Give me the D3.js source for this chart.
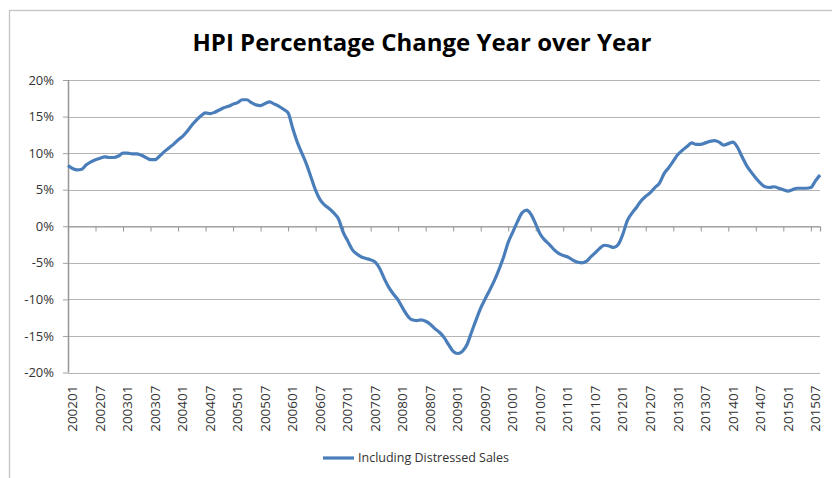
<!DOCTYPE html>
<html>
<head>
<meta charset="utf-8">
<script src="https://cdn.jsdelivr.net/npm/d3@7"></script>
<style>
  body { margin: 0; background: #fff; }
  svg { display: block; }
</style>
</head>
<body>
<div id="chart"></div>
<script>
// first month shown and number of months (200201 .. 201509)
const startMonth = "200201";
const monthCount = 165;

// year over year change, %, one value per month
const hpiChange = [
  8.3, 7.9, 7.7, 7.8, 8.4, 8.8, 9.1, 9.3, 9.5, 9.4, 9.4, 9.6,
  10.0, 10.0, 9.9, 9.9, 9.7, 9.4, 9.1, 9.1, 9.6, 10.2, 10.7, 11.2,
  11.8, 12.3, 13.0, 13.8, 14.5, 15.1, 15.5, 15.4, 15.6, 15.9, 16.2, 16.4,
  16.7, 16.9, 17.3, 17.3, 16.9, 16.6, 16.5, 16.8, 17.0, 16.7, 16.4, 16.0,
  15.5, 13.4, 11.5, 10.0, 8.5, 6.7, 4.9, 3.6, 2.9, 2.4, 1.8, 1.0,
  -0.8, -2.0, -3.2, -3.8, -4.2, -4.4, -4.6, -4.9, -5.8, -7.2, -8.4, -9.3,
  -10.1, -11.2, -12.2, -12.8, -12.9, -12.8, -13.0, -13.4, -14.0, -14.5, -15.2, -16.2,
  -17.1, -17.4, -17.1, -16.2, -14.5, -12.8, -11.2, -9.9, -8.7, -7.4, -5.9, -4.2,
  -2.2, -0.8, 0.6, 1.8, 2.2, 1.6, 0.3, -1.1, -1.9, -2.5, -3.2, -3.7,
  -4.0, -4.2, -4.6, -4.9, -5.0, -4.8, -4.2, -3.6, -3.0, -2.6, -2.7, -2.9,
  -2.5, -1.1, 0.8, 1.8, 2.6, 3.5, 4.1, 4.6, 5.3, 5.9, 7.2, 8.0,
  8.9, 9.8, 10.4, 10.9, 11.4, 11.2, 11.2, 11.4, 11.6, 11.7, 11.5, 11.1,
  11.3, 11.5, 10.8, 9.5, 8.3, 7.4, 6.6, 5.9, 5.4, 5.3, 5.4, 5.2,
  5.0, 4.8, 5.0, 5.2, 5.2, 5.2, 5.3, 6.2, 7.0
];

const tickLabels = [
  "200201", "200207", "200301", "200307", "200401", "200407", "200501",
  "200507", "200601", "200607", "200701", "200707", "200801", "200807",
  "200901", "200907", "201001", "201007", "201101", "201107", "201201",
  "201207", "201301", "201307", "201401", "201407", "201501", "201507"
];
const yTicks = [-20, -15, -10, -5, 0, 5, 10, 15, 20];

const title = "HPI Percentage Change Year over Year";
const seriesName = "Including Distressed Sales";

// month keys like "200203"
const parseMonth = d3.timeParse("%Y%m");
const fmtMonth = d3.timeFormat("%Y%m");
const months = d3.range(monthCount).map(i => fmtMonth(d3.timeMonth.offset(parseMonth(startMonth), i)));
const data = months.map((m, i) => ({ month: m, value: hpiChange[i] }));

const W = 832, H = 478;
const margin = { top: 80, right: 12, bottom: 105.5, left: 68 };
const plotW = W - margin.left - margin.right;
const plotH = H - margin.top - margin.bottom;

const textColor = "#333";

const svg = d3.select("#chart").append("svg")
  .attr("width", W).attr("height", H);

// chart area border
svg.append("rect")
  .attr("x", 9.5).attr("y", 10.5)
  .attr("width", 850).attr("height", 520)
  .attr("fill", "#fff")
  .attr("stroke", "#c4c4c4")
  .attr("stroke-width", 1.3);

svg.append("text")
  .attr("x", 422).attr("y", 51)
  .attr("text-anchor", "middle")
  .attr("textLength", 459)
  .attr("lengthAdjust", "spacingAndGlyphs")
  .style("font-family", "'Open Sans', sans-serif")
  .style("font-weight", "bold")
  .style("font-size", "24px")
  .style("fill", "#000")
  .text(title);

const g = svg.append("g")
  .attr("transform", "translate(" + margin.left + "," + margin.top + ")");

const x = d3.scalePoint().domain(months).range([0, plotW]);
const y = d3.scaleLinear().domain([-20, 20]).range([plotH, 0]);

// gridlines + y axis
const yAxis = g.append("g")
  .call(d3.axisLeft(y).tickValues(yTicks).tickSize(5).tickFormat(d => d + "%"));
yAxis.select(".domain").remove();
yAxis.selectAll(".tick line").attr("stroke", "#a0a0a0");
yAxis.selectAll("text")
  .attr("x", -14)
  .style("font-family", "'Open Sans', sans-serif")
  .style("font-size", "13px")
  .style("fill", textColor);

g.append("g")
  .selectAll("line")
  .data(yTicks)
  .enter()
  .append("line")
  .attr("x1", 0).attr("x2", plotW)
  .attr("y1", d => Math.round(y(d)) + 0.5)
  .attr("y2", d => Math.round(y(d)) + 0.5)
  .attr("stroke", "#b4b4b4")
  .attr("stroke-width", 1.2);

g.append("line")
  .attr("x1", 0.5).attr("x2", 0.5)
  .attr("y1", 0).attr("y2", plotH)
  .attr("stroke", "#969696")
  .attr("stroke-width", 1.5);

// category axis sits on the 0% line, labels under the plot
const xAxis = g.append("g")
  .attr("transform", "translate(0," + (Math.round(y(0)) + 0.5) + ")")
  .call(d3.axisBottom(x).tickValues(tickLabels).tickSize(5).tickFormat(""));
xAxis.select(".domain").attr("stroke", "#969696").attr("stroke-width", 1.2);
xAxis.selectAll(".tick line").attr("stroke", "#969696");

const xLabels = g.append("g")
  .attr("transform", "translate(0," + plotH + ")")
  .call(d3.axisBottom(x).tickValues(tickLabels).tickSize(0));
xLabels.select(".domain").remove();
xLabels.selectAll("text")
  .attr("x", -13)
  .attr("y", 0)
  .attr("dy", "0.35em")
  .attr("text-anchor", "end")
  .attr("transform", "translate(4,0) rotate(-90)")
  .style("font-family", "'Open Sans', sans-serif")
  .style("font-size", "13.5px")
  .style("fill", textColor);

// the series
const line = d3.line()
  .x(d => x(d.month))
  .y(d => y(d.value))
  .curve(d3.curveMonotoneX);

g.append("path")
  .datum(data)
  .attr("d", line)
  .attr("fill", "none")
  .attr("stroke", "#4a7ebb")
  .attr("stroke-width", 3.2)
  .attr("stroke-linejoin", "round");

// legend
const legend = svg.append("g").attr("transform", "translate(323,458)");
legend.append("line")
  .attr("x1", 0).attr("x2", 31)
  .attr("y1", 0).attr("y2", 0)
  .attr("stroke", "#4a7ebb")
  .attr("stroke-width", 3.2);
legend.append("text")
  .attr("x", 35).attr("y", 0)
  .attr("dy", "0.35em")
  .style("font-family", "'Open Sans', sans-serif")
  .style("font-size", "12.5px")
  .style("fill", textColor)
  .text(seriesName);
</script>
</body>
</html>
